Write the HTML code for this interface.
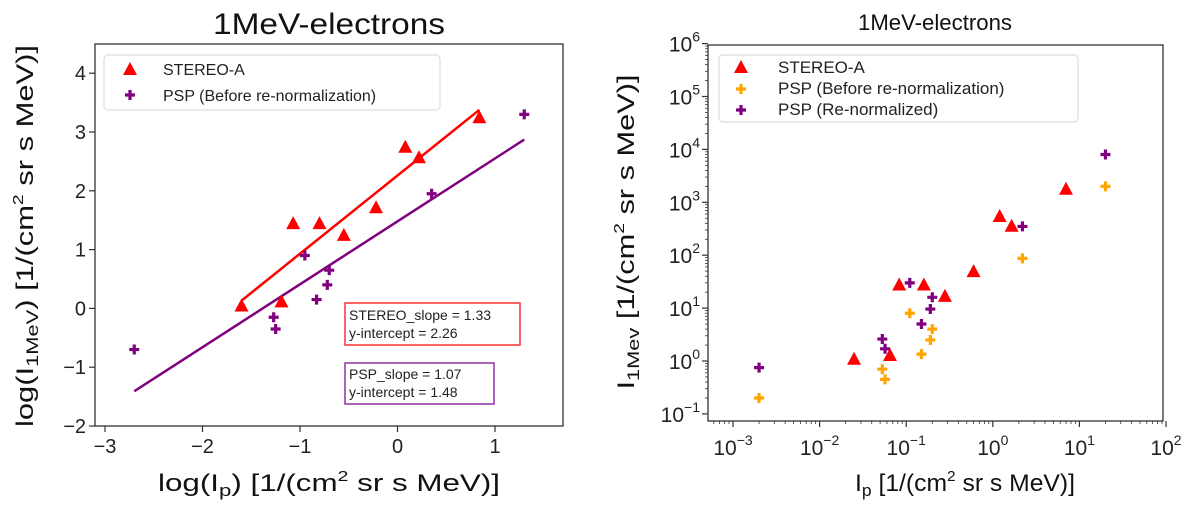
<!DOCTYPE html>
<html><head><meta charset="utf-8"><style>
body{margin:0;background:#fff;width:1200px;height:517px;overflow:hidden}
svg{font-family:"Liberation Sans","DejaVu Sans",sans-serif}
</style></head><body>
<svg id="c" width="1200" height="517" viewBox="0 0 1200 517"></svg>
<script>
// ---- data ----
const stereoLogIp = [-1.6, -1.19, -1.07, -0.8, -0.55, -0.22, 0.08, 0.22, 0.84];
const stereoLogI  = [0.05, 0.12, 1.45, 1.45, 1.25, 1.72, 2.75, 2.57, 3.25];
const pspLogIp    = [-2.7, -1.27, -1.25, -0.95, -0.83, -0.72, -0.7, 0.35, 1.3];
const pspLogI     = [-0.7, -0.15, -0.35, 0.9, 0.15, 0.4, 0.65, 1.95, 3.3];
const stereoIp = [0.025, 0.065, 0.083, 0.16, 0.28, 0.6, 1.2, 1.65, 7];
const stereoI  = [1.1, 1.3, 28, 28, 17, 50, 550, 360, 1800];
const pspIp    = [0.002, 0.053, 0.057, 0.11, 0.15, 0.19, 0.2, 2.2, 20];
const pspBefore= [0.2, 0.7, 0.45, 8, 1.35, 2.5, 4, 87, 2000];
const pspRenorm= [0.75, 2.6, 1.7, 30, 5, 9.6, 16, 350, 8000];
const stereoFit = {slope:1.33, intercept:2.26, x0:-1.6, x1:0.84};
const pspFit = {slope:1.07, intercept:1.48, x0:-2.7, x1:1.3};
const leftXTicks = [-3,-2,-1,0,1];
const leftYTicks = [-2,-1,0,1,2,3,4];
const rightXExp = [-3,-2,-1,0,1,2];
const rightYExp = [-1,0,1,2,3,4,5,6];

const svg = document.getElementById('c');
const NS = 'http://www.w3.org/2000/svg';
function mk(tag, attrs, parent){const e=document.createElementNS(NS,tag);for(const k in attrs)e.setAttribute(k,attrs[k]);(parent||svg).appendChild(e);return e;}

const L={x0:95,x1:563,y0:44,y1:426};
const lx=v=>105+(v+3)*97.5;
const ly=v=>426-(v+2)*58.8;
const R={x0:708,x1:1163,y0:45,y1:421};
const rx=v=>733+(Math.log10(v)+3)*86.6;
const ry=v=>361-Math.log10(v)*52.9;

function tri(x,y,g){const p=mk('polygon',{points:`${x},${y-7} ${x-7},${y+6} ${x+7},${y+6}`,fill:'#ff0000'},g);
return p;}
function plus(x,y,col,g,n){const p=mk('path',{d:`M${x-5},${y}H${x+5}M${x},${y-5}V${y+5}`,stroke:col,'stroke-width':3.2},g);
return p;}
function txt(x,y,s,attrs,name){const t=mk('text',Object.assign({x:x,y:y},attrs));t.innerHTML=s;return t;}

const lf=mk('rect',{x:L.x0,y:L.y0,width:L.x1-L.x0,height:L.y1-L.y0,fill:'none',stroke:'#333','stroke-width':1.3});

leftXTicks.forEach(v=>{mk('line',{x1:lx(v),x2:lx(v),y1:L.y1,y2:L.y1+6,stroke:'#333','stroke-width':1.2});
 txt(lx(v),453,String(v).replace('-','−'),{'font-size':20,'text-anchor':'middle','fill':'#222'},'left-x-tick-label');});
leftYTicks.forEach(v=>{mk('line',{x1:L.x0-6,x2:L.x0,y1:ly(v),y2:ly(v),stroke:'#333','stroke-width':1.2});
 txt(86,ly(v)+7,String(v).replace('-','−'),{'font-size':20,'text-anchor':'end','fill':'#222'},'left-y-tick-label');});
const fl1=mk('line',{x1:lx(stereoFit.x0),y1:ly(stereoFit.slope*stereoFit.x0+stereoFit.intercept),x2:lx(stereoFit.x1),y2:ly(stereoFit.slope*stereoFit.x1+stereoFit.intercept),stroke:'#ff0000','stroke-width':2.5});

const fl2=mk('line',{x1:lx(pspFit.x0),y1:ly(pspFit.slope*pspFit.x0+pspFit.intercept),x2:lx(pspFit.x1),y2:ly(pspFit.slope*pspFit.x1+pspFit.intercept),stroke:'#800080','stroke-width':2.5});

stereoLogIp.forEach((v,i)=>tri(lx(v),ly(stereoLogI[i])));
pspLogIp.forEach((v,i)=>plus(lx(v),ly(pspLogI[i]),'#800080',svg,'psp-marker'));
const lg=mk('rect',{x:104,y:55,width:336,height:55,rx:4,fill:'#fff',stroke:'#ddd','stroke-width':1.2});

tri(130,69);plus(130,95,'#800080',svg,'legend-psp-marker');
txt(163,75,'STEREO-A',{'font-size':16,fill:'#222'},'legend-stereo-label');
txt(163,101,'PSP (Before re-normalization)',{'font-size':16,fill:'#222'},'legend-psp-label');
const b1=mk('rect',{x:345,y:303,width:175,height:42,fill:'#fff',stroke:'#ff3030','stroke-width':1.5});

txt(349,320,'STEREO_slope = 1.33',{'font-size':14,fill:'#222'},'stereo-slope-text');
txt(349,338,'y-intercept = 2.26',{'font-size':14,fill:'#222'},'stereo-intercept-text');
const b2=mk('rect',{x:345,y:363,width:149,height:41,fill:'#fff',stroke:'#9030a0','stroke-width':1.5});

txt(349,379,'PSP_slope = 1.07',{'font-size':14,fill:'#222'},'psp-slope-text');
txt(349,397,'y-intercept = 1.48',{'font-size':14,fill:'#222'},'psp-intercept-text');
txt(329,34,'1MeV-electrons',{'font-size':30,'text-anchor':'middle',fill:'#111',textLength:232,lengthAdjust:'spacingAndGlyphs'},'left-title');
txt(329,491,'log(I<tspan font-size="17" dy="5">p</tspan><tspan dy="-5">) [1/(cm</tspan><tspan font-size="15" dy="-10">2</tspan><tspan dy="10"> sr s MeV)]</tspan>',{'font-size':24,'text-anchor':'middle',fill:'#111',textLength:342,lengthAdjust:'spacingAndGlyphs'},'left-x-axis-title');
txt(0,0,'log(I<tspan font-size="17" dy="5">1MeV</tspan><tspan dy="-5">) [1/(cm</tspan><tspan font-size="15" dy="-10">2</tspan><tspan dy="10"> sr s MeV)]</tspan>',{'font-size':24,'text-anchor':'middle',fill:'#111',transform:'translate(33,236) rotate(-90)',textLength:382,lengthAdjust:'spacingAndGlyphs'},'left-y-axis-title');

const rf=mk('rect',{x:R.x0,y:R.y0,width:R.x1-R.x0,height:R.y1-R.y0,fill:'none',stroke:'#333','stroke-width':1.3});

rightXExp.forEach(e=>{const x=rx(Math.pow(10,e));mk('line',{x1:x,x2:x,y1:R.y1,y2:R.y1+6,stroke:'#333','stroke-width':1.2});
 if(e<2)for(let m=2;m<10;m++){const xm=rx(m*Math.pow(10,e));mk('line',{x1:xm,x2:xm,y1:R.y1,y2:R.y1+3,stroke:'#333','stroke-width':0.8});}
 txt(x,455,'10<tspan font-size="14" dy="-10">'+String(e).replace('-','−')+'</tspan>',{'font-size':21,'text-anchor':'middle',fill:'#222'},'right-x-tick-label');});
for(let m=6;m<10;m++){const xm=rx(m*1e-4);if(xm>R.x0)mk('line',{x1:xm,x2:xm,y1:R.y1,y2:R.y1+3,stroke:'#333','stroke-width':0.8});}
rightYExp.forEach(e=>{const y=ry(Math.pow(10,e));mk('line',{x1:R.x0-6,x2:R.x0,y1:y,y2:y,stroke:'#333','stroke-width':1.2});
 if(e<6)for(let m=2;m<10;m++){const ym=ry(m*Math.pow(10,e));mk('line',{x1:R.x0-3,x2:R.x0,y1:ym,y2:ym,stroke:'#333','stroke-width':0.8});}
 txt(700,y+8,'10<tspan font-size="14" dy="-10">'+String(e).replace('-','−')+'</tspan>',{'font-size':21,'text-anchor':'end',fill:'#222'},'right-y-tick-label');});
stereoIp.forEach((v,i)=>tri(rx(v),ry(stereoI[i])));
pspIp.forEach((v,i)=>plus(rx(v),ry(pspBefore[i]),'#ffa500',svg,'psp-before-marker'));
pspIp.forEach((v,i)=>plus(rx(v),ry(pspRenorm[i]),'#800080',svg,'psp-renorm-marker'));
const rg=mk('rect',{x:719,y:55,width:359,height:67,rx:4,fill:'#fff',stroke:'#ddd','stroke-width':1.2});

tri(741,67);plus(741,89,'#ffa500',svg,'legend-psp-before-marker');plus(741,110,'#800080',svg,'legend-psp-renorm-marker');
txt(778,73,'STEREO-A',{'font-size':17,fill:'#222'},'legend-stereo-label');
txt(778,94,'PSP (Before re-normalization)',{'font-size':17,fill:'#222'},'legend-psp-before-label');
txt(778,115,'PSP (Re-normalized)',{'font-size':17,fill:'#222'},'legend-psp-renorm-label');
txt(935,30,'1MeV-electrons',{'font-size':22,'text-anchor':'middle',fill:'#111',textLength:154,lengthAdjust:'spacingAndGlyphs'},'right-title');
txt(965,491,'I<tspan font-size="17" dy="5">p</tspan><tspan dy="-5"> [1/(cm</tspan><tspan font-size="15" dy="-10">2</tspan><tspan dy="10"> sr s MeV)]</tspan>',{'font-size':24,'text-anchor':'middle',fill:'#111',textLength:220,lengthAdjust:'spacingAndGlyphs'},'right-x-axis-title');
txt(0,0,'I<tspan font-size="17" dy="5">1Mev</tspan><tspan dy="-5"> [1/(cm</tspan><tspan font-size="15" dy="-10">2</tspan><tspan dy="10"> sr s MeV)]</tspan>',{'font-size':24,'text-anchor':'middle',fill:'#111',transform:'translate(634,232) rotate(-90)',textLength:315,lengthAdjust:'spacingAndGlyphs'},'right-y-axis-title');
</script>
</body></html>
